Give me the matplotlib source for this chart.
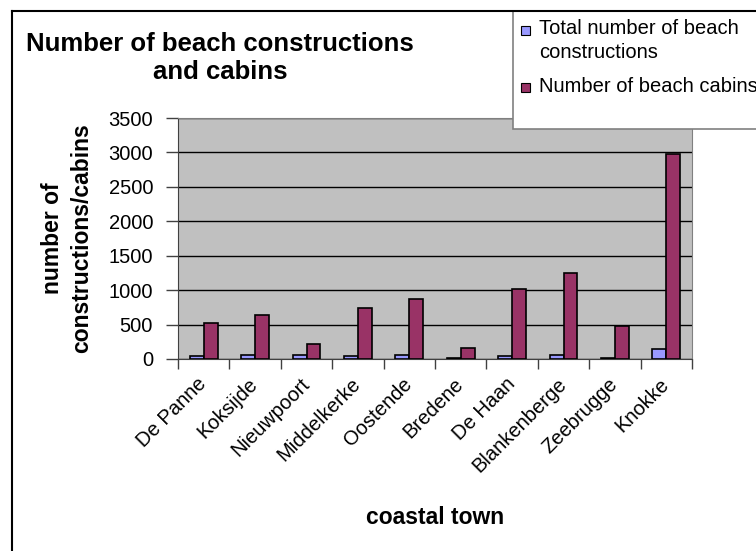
import numpy as np
import matplotlib
matplotlib.use('Agg')
import matplotlib.pyplot as plt
from matplotlib.patches import Rectangle
from matplotlib.lines import Line2D

plt.rcParams['font.family'] = ['Liberation Sans', 'DejaVu Sans']

# data
towns = ['De Panne', 'Koksijde', 'Nieuwpoort', 'Middelkerke', 'Oostende',
         'Bredene', 'De Haan', 'Blankenberge', 'Zeebrugge', 'Knokke']
total_constructions = [40, 65, 65, 40, 65, 20, 40, 65, 20, 140]
beach_cabins = [530, 645, 225, 735, 875, 160, 1020, 1250, 480, 2975]
y_ticks = [0, 500, 1000, 1500, 2000, 2500, 3000, 3500]

blue = '#9999FF'
maroon = '#993366'

W, H = 756, 551
fig = plt.figure(figsize=(W / 100, H / 100), dpi=100)
ax = fig.add_axes([178 / W, 1 - 359 / H, 514 / W, 241 / H])
ax.set_facecolor('#C0C0C0')

x = np.arange(len(towns))
bw = 0.27
ax.bar(x - bw / 2, total_constructions, bw, color=blue, edgecolor='black', linewidth=1.2, zorder=3)
ax.bar(x + bw / 2, beach_cabins, bw, color=maroon, edgecolor='black', linewidth=1.2, zorder=3)

ax.set_xlim(-0.5, len(towns) - 0.5)
ax.set_ylim(0, 3500)
ax.set_yticks(y_ticks)
ax.set_yticklabels([str(v) for v in y_ticks], fontsize=14.5)
ax.yaxis.grid(True, color='black', linewidth=1, zorder=1)
ax.set_axisbelow(True)

# category ticks on the boundaries, labels at centers
ax.set_xticks(np.arange(len(towns) + 1) - 0.5)
ax.set_xticklabels([])
ax.set_xticks(x, minor=True)
ax.set_xticklabels(towns, minor=True, rotation=45, ha='right', va='center',
                   rotation_mode='anchor', fontsize=14.5)
ax.tick_params(axis='x', which='minor', length=0, pad=16)
ax.tick_params(axis='x', which='major', length=7, width=1, color='#404040', direction='out')
ax.tick_params(axis='y', length=9, width=1, color='#404040', pad=9)

for s in ['top', 'right']:
    ax.spines[s].set_color('#808080')
for s in ['left', 'bottom']:
    ax.spines[s].set_color('#404040')

ax.set_ylabel('number of\nconstructions/cabins', fontsize=16.5, fontweight='bold',
              va='center', ha='center', linespacing=1.3)
ax.yaxis.set_label_coords((67 - 178) / 514, 0.5)
ax.set_xlabel('coastal town', fontsize=16.5, fontweight='bold', va='center')
ax.xaxis.set_label_coords(0.5, -(518 - 359) / 241)

fig.text(220 / W, 1 - 58 / H, 'Number of beach constructions\nand cabins',
         ha='center', va='center', fontsize=18.5, fontweight='bold', linespacing=1.25)

# legend box, partly cut off at the right like the original
fig.add_artist(Rectangle((513 / W, 1 - 129 / H), 300 / W, 118 / H, transform=fig.transFigure,
                         facecolor='white', edgecolor='#808080', linewidth=1.2, zorder=5))
fig.add_artist(Rectangle((521 / W, 1 - 35 / H), 9 / W, 9 / H, transform=fig.transFigure,
                         facecolor=blue, edgecolor='black', linewidth=0.8, zorder=6))
fig.add_artist(Rectangle((521 / W, 1 - 92 / H), 9 / W, 9 / H, transform=fig.transFigure,
                         facecolor=maroon, edgecolor='black', linewidth=0.8, zorder=6))
fig.text(539 / W, 1 - 40.5 / H, 'Total number of beach\nconstructions', ha='left', va='center',
         fontsize=14.5, linespacing=1.3, zorder=7)
fig.text(539 / W, 1 - 87 / H, 'Number of beach cabins', ha='left', va='center',
         fontsize=14.5, zorder=7)

# chart area frame (right and bottom edges fall outside the picture)
fig.add_artist(Line2D([12 / W, 12 / W], [0, 1 - 11 / H], transform=fig.transFigure,
                      color='black', linewidth=1.5, zorder=8))
fig.add_artist(Line2D([12 / W, 1], [1 - 11 / H, 1 - 11 / H], transform=fig.transFigure,
                      color='black', linewidth=1.5, zorder=8))

fig.savefig('out.png', dpi=100)
